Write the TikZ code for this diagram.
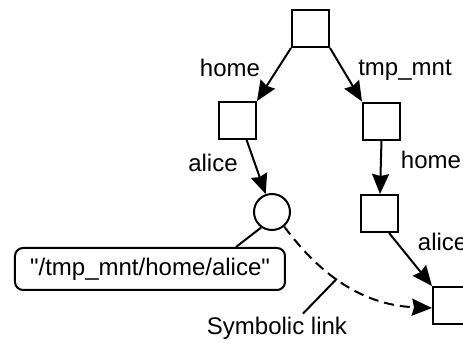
\documentclass[tikz,border=0pt]{standalone}
\usepackage{fontspec}
\setmainfont{Liberation Sans}
\usetikzlibrary{arrows.meta}

\begin{document}
\begin{tikzpicture}[x=0.5pt, y=-0.5pt, line width=1pt,
  font=\fontsize{12}{14}\selectfont, >={Stealth[length=10pt, width=8.5pt, inset=1pt]},
  dirbox/.style={draw, minimum size=18.5pt, inner sep=0pt},
  linknode/.style={draw, circle, minimum size=18pt, inner sep=0pt},
  lbl/.style={anchor=base, inner sep=0pt}]
\useasboundingbox (0,0) rectangle (463,343);
\clip (0,0) rectangle (463,343);
% —— directory nodes ——
\node[dirbox] (root) at (310.5,28.5) {};
\node[dirbox] (home) at (237.5,120.5) {};
\node[dirbox] (tmpmnt) at (381.5,121) {};
\node[linknode] (link) at (272,212) {};
\node[dirbox] (mnthome) at (380,213.5) {};
\node[dirbox] (alice) at (451.5,305.5) {};
% —— path value of the link ——
\node[draw, rounded corners=4pt, minimum width=135pt, minimum height=21pt,
  inner sep=0pt] (linkval) at (150,269) {\textquotedbl/tmp\_mnt/home/alice\textquotedbl};
% —— edges ——
\draw[->] (root.south west) -- (home.north east);
\draw[->] (root.south east) -- (tmpmnt.north west);
\draw[->] (home.-65) -- (link);
\draw[->] (tmpmnt.south) -- (mnthome.north);
\draw[->] (mnthome.-65) -- (alice.north west);
\draw (link.235) -- ([xshift=-25pt]linkval.north east);
% edge names
\node[lbl] (lhome) at (230,76) {home};
\node[lbl] (ltmp) at (405,75) {tmp\_mnt};
\node[lbl] (lalice) at (213,171) {alice};
\node[lbl] (lhome2) at (431,168) {home};
\node[lbl, anchor=base west] (lalice2) at (417,250) {alice};
% —— symbolic link ——
\draw[->, dash pattern=on 5pt off 3pt] (link.-50) .. controls (318,272) and (360,305)
  .. ([yshift=-1.25pt]alice.west) coordinate[pos=0.45] (symat);
\node[lbl] (symtxt) at (277,335) {Symbolic link};
\draw (symat) -- ([xshift=13pt, yshift=1.5pt]symtxt.north);
\end{tikzpicture}
\end{document}
